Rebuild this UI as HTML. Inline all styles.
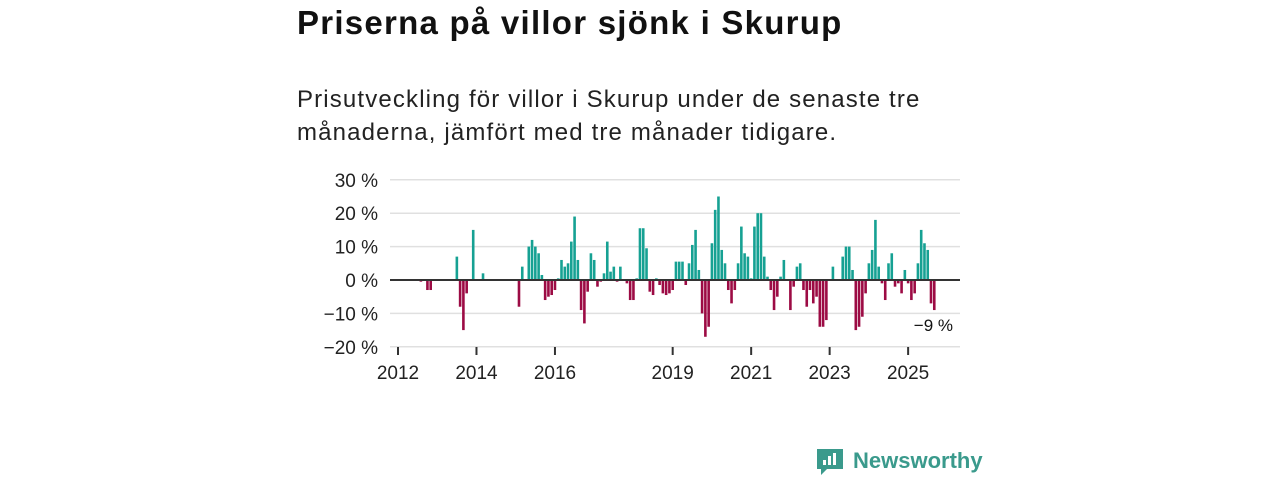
<!DOCTYPE html>
<html><head><meta charset="utf-8">
<style>
body{margin:0;width:1280px;height:480px;background:#fff;font-family:"Liberation Sans",sans-serif;overflow:hidden;position:relative}
h1{position:absolute;left:297px;top:4px;margin:0;font-size:33px;letter-spacing:1.25px;font-weight:bold;color:#111}
.sub{position:absolute;left:297px;top:83px;margin:0;font-size:24px;letter-spacing:1.15px;line-height:33px;color:#222}
svg{position:absolute;left:0;top:0}
.logo{position:absolute;left:815px;top:446px;display:flex;align-items:center;gap:8px;color:#3a9a8c;font-size:22px;font-weight:bold}
</style></head><body>
<h1>Priserna på villor sjönk i Skurup</h1>
<p class="sub">Prisutveckling för villor i Skurup under de senaste tre<br>månaderna, jämfört med tre månader tidigare.</p>
<svg id="chart" width="1280" height="480"></svg>
<div class="logo">
<svg width="30" height="30" viewBox="0 0 30 30" style="position:static"><path d="M2 3h26v20H12l-6 6v-6H2z" fill="#3a9a8c"/><rect x="8" y="14" width="3" height="5" fill="#fff"/><rect x="13" y="10" width="3" height="9" fill="#fff"/><rect x="18" y="7" width="3" height="12" fill="#fff"/></svg>
<span>Newsworthy</span></div>
<script>
// month offsets since 2012-01
const months=[7,9,10,18,19,20,21,23,26,37,38,40,41,42,43,44,45,46,47,48,49,50,51,52,53,54,55,56,57,58,59,60,61,62,63,64,65,66,67,68,70,71,72,73,74,75,76,77,78,79,80,81,82,83,84,85,86,87,88,89,90,91,92,93,94,95,96,97,98,99,100,101,102,103,104,105,106,107,108,109,110,111,112,113,114,115,116,117,118,120,121,122,123,124,125,126,127,128,129,130,131,133,136,137,138,139,140,141,142,143,144,145,146,147,148,149,150,151,152,153,154,155,156,157,158,159,160,161,162,163,164];
const values=[-0.5,-3,-3,7,-8,-15,-4,15,2,-8,4,10,12,10,8,1.5,-6,-5,-4.5,-3,0.5,6,4,5,11.5,19,6,-9,-13,-3.5,8,6,-2,-0.5,2,11.5,2.5,4,-0.5,4,-1,-6,-6,0.5,15.5,15.5,9.5,-3.5,-4.5,0.5,-1.5,-4,-4.5,-4,-3,5.5,5.5,5.5,-1.5,5,10.5,15,3,-10,-17,-14,11,21,25,9,5,-3,-7,-3,5,16,8,7,0.5,16,20,20,7,1,-3,-9,-5,1,6,-9,-2,4,5,-3,-8,-3,-7,-5,-14,-14,-12,4,7,10,10,3,-15,-14,-11,-4,5,9,18,4,-1,-6,5,8,-2,-1,-4,3,-1,-6,-4,5,15,11,9,-7,-9];
const yTicks=[30,20,10,0,-10,-20];
const yearTicks=[2012,2014,2016,2019,2021,2023,2025];
const lastLabel="−9 %";
const svg=document.getElementById('chart');const NS='http://www.w3.org/2000/svg';
const xs=m=>398+m*3.27; const ys=v=>280-v*3.34;
function mk(t,a){const e=document.createElementNS(NS,t);for(const k in a)e.setAttribute(k,a[k]);svg.appendChild(e);return e;}
yTicks.forEach(v=>{
 if(v!==0){const g=mk('line',{x1:390,x2:960,y1:ys(v),y2:ys(v),stroke:'#e0e0e0','stroke-width':1.5});
 
 }
 const t=mk('text',{x:378,y:ys(v)+7,'text-anchor':'end','font-size':19,fill:'#222','font-family':'Liberation Sans, sans-serif'});
 t.textContent=(v<0?'−'+(-v):v)+' %';
 
 
});
months.forEach((m,i)=>{const v=values[i];
 const r=mk('rect',{x:xs(m)-1.3,width:2.6,y:Math.min(ys(v),280),height:Math.abs(ys(v)-280),fill:v>=0?'#16a193':'#9c0b44'});
 
 
});
const z=mk('line',{x1:390,x2:960,y1:280,y2:280,stroke:'#333','stroke-width':2});


yearTicks.forEach(y=>{const x=xs((y-2012)*12);
 const l=mk('line',{x1:x,x2:x,y1:347,y2:355,stroke:'#333','stroke-width':2});
 
 
 const t=mk('text',{x:x,y:379,'text-anchor':'middle','font-size':19,fill:'#222','font-family':'Liberation Sans, sans-serif'});
 t.textContent=y;
 
 
});
const lt=mk('text',{x:953,y:331,'text-anchor':'end','font-size':17,fill:'#111','font-family':'Liberation Sans, sans-serif'});
lt.textContent=lastLabel;


</script>
</body></html>
